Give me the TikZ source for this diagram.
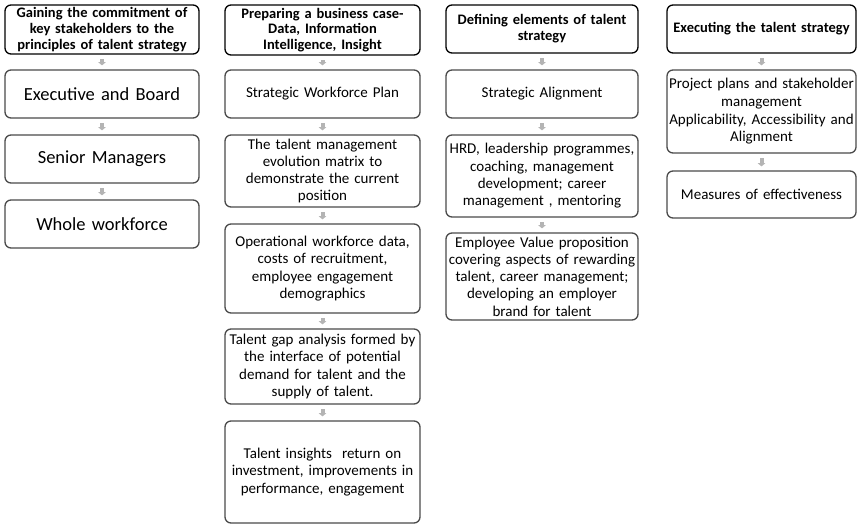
\documentclass[tikz,border=0pt]{standalone}
\usepackage{fontspec}
\setmainfont{Carlito}
\usetikzlibrary{arrows.meta}
\definecolor{boxline}{HTML}{4A4A4A}
\definecolor{flowgray}{HTML}{B4B4B4}
\tikzset{
  x=1pt, y=-1pt,
  card/.style={draw=boxline, line width=1.3pt, rounded corners=6pt, align=center,
    inner sep=1pt, font=\fontsize{15}{17.3}\selectfont},
  headcard/.style={card, draw=black, font=\bfseries\fontsize{14.5}{15.8}\selectfont},
  bigcard/.style={card, font=\fontsize{18.5}{22}\selectfont},
  flow/.style={draw=flowgray, line width=4pt, -{Triangle[width=7.5pt,length=3.2pt]},
    shorten <=4.5pt, shorten >=4pt}
}
% box with given left/right/top/bottom edges
\newcommand{\cardat}[7]{%
  \node[#1, minimum width=#4-#3, minimum height=#6-#5, text width=#4-#3-2]
    (#2) at ({(#3+#4)/2},{(#5+#6)/2}) {#7};}
\begin{document}
\begin{tikzpicture}
\useasboundingbox (0,0) rectangle (858,525);

% column 1
\cardat{headcard}{a0}{5}{199}{5}{54}{Gaining the commitment of\\key stakeholders to the\\principles of talent strategy}
\cardat{bigcard}{a1}{5}{199}{70}{118}{Executive and Board}
\cardat{bigcard}{a2}{5}{199}{135}{183}{Senior Managers}
\cardat{bigcard}{a3}{5}{199}{200}{248}{Whole workforce}

% column 2
\cardat{headcard}{b0}{225}{420}{5}{55}{Preparing a business case-\\Data, Information\\Intelligence, Insight}
\cardat{card}{b1}{225}{420}{70}{118}{Strategic Workforce Plan}
\cardat{card}{b2}{225}{420}{135}{207}{The talent management\\evolution matrix to\\demonstrate the current\\position}
\cardat{card}{b3}{225}{420}{224}{313}{Operational workforce data,\\costs of recruitment,\\employee engagement\\demographics}
\cardat{card}{b4}{225}{420}{329}{404}{Talent gap analysis formed by\\the interface of potential\\demand for talent and the\\supply of talent.}
\cardat{card}{b5}{225}{420}{421}{523}{Talent insights\ \ return on\\investment, improvements in\\performance, engagement}

% column 3
\cardat{headcard}{c0}{446}{638}{5}{53}{Defining elements of talent\\strategy}
\cardat{card}{c1}{446}{638}{70}{118}{Strategic Alignment}
\cardat{card}{c2}{446}{638}{135}{217}{HRD, leadership programmes,\\coaching, management\\development; career\\management , mentoring}
\cardat{card}{c3}{446}{638}{233}{320}{Employee Value proposition\\covering aspects of rewarding\\talent, career management;\\developing an employer\\brand for talent}

% column 4
\cardat{headcard}{d0}{667}{856}{5}{53}{Executing the talent strategy}
\cardat{card}{d1}{667}{856}{70}{153}{Project plans and stakeholder\\management\\[1pt]Applicability, Accessibility and\\Alignment}
\cardat{card}{d2}{667}{856}{171}{218}{Measures of effectiveness}

% flow arrows
\foreach \p/\q in {a0/a1,a1/a2,a2/a3,
                   b0/b1,b1/b2,b2/b3,b3/b4,b4/b5,
                   c0/c1,c1/c2,c2/c3,
                   d0/d1,d1/d2}
  \draw[flow] (\p.south) -- (\q.north);
\end{tikzpicture}
\end{document}
